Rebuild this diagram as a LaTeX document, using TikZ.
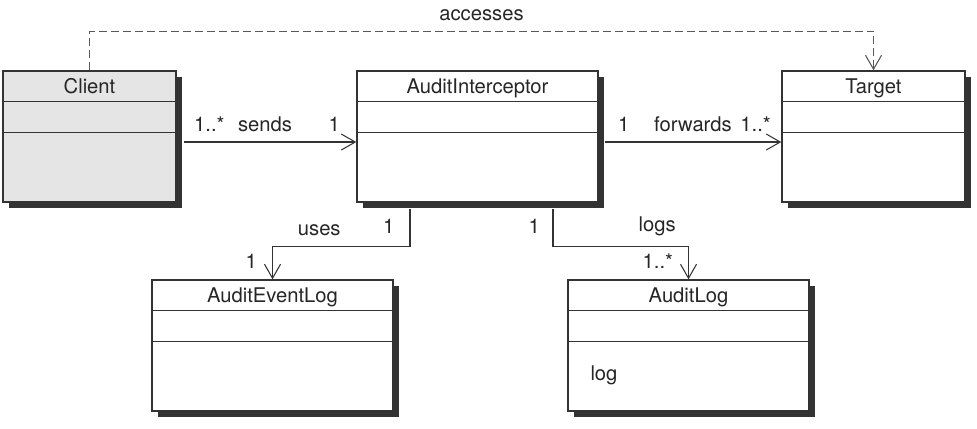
\documentclass[tikz,border=0pt]{standalone}
\usepackage{fontspec}
\setmainfont{TeX Gyre Heros}
\usepackage{tikz}
\usetikzlibrary{arrows.meta, positioning, shadows}
\tikzset{classbox/.style={rectangle,draw=black!80,line width=0.8pt,fill=white,minimum height=2.62cm,inner sep=0pt,drop shadow={shadow xshift=0.12cm,shadow yshift=-0.12cm,fill=black!80,opacity=1}},
         classname/.style={anchor=base,text=black!85},
         compline/.style={draw=black!80,line width=0.7pt},
         assoc/.style={-{Straight Barb[length=0.28cm,width=0.32cm]},line width=0.6pt,draw=black!80},
         depend/.style={assoc,dash pattern=on 0.16cm off 0.08cm,draw=black!65},
         lbl/.style={inner sep=0.2cm,text=black!85}}
\begin{document}
\begin{tikzpicture}[x=1cm,y=1cm,font=\fontsize{11.5}{13}\selectfont]
    \useasboundingbox (0,0) rectangle (19.54,-8.56);
    % Classes
    \node (client) at (1.79,-2.73) [classbox,fill=black!10,minimum width=3.46cm]{};
    \node (ai) at (9.55,-2.73) [classbox,minimum width=4.82cm]{};
    \node (target) at (17.47,-2.73) [classbox,minimum width=3.66cm]{};
    \node (evlog) at (5.45,-6.91) [classbox,minimum width=4.82cm]{};
    \node (alog) at (13.77,-6.91) [classbox,minimum width=4.82cm]{};
    % Names
    \node (client-name) at ([yshift=-0.46cm]client.north) [classname]{Client};
    \node (ai-name) at ([yshift=-0.46cm]ai.north) [classname]{AuditInterceptor};
    \node (target-name) at ([yshift=-0.46cm]target.north) [classname]{Target};
    \node (evlog-name) at ([yshift=-0.46cm]evlog.north) [classname]{AuditEventLog};
    \node (alog-name) at ([yshift=-0.46cm]alog.north) [classname]{AuditLog};
    \node (alog-op) at ([xshift=0.34cm,yshift=-2.02cm]alog.north west) [anchor=base west,text=black!85]{log};
    % Compartments
    \draw[compline] ([yshift=-0.62cm]client.north west) -- ([yshift=-0.62cm]client.north east);
    \draw[compline] ([yshift=-1.24cm]client.north west) -- ([yshift=-1.24cm]client.north east);
    \draw[compline] ([yshift=-0.62cm]ai.north west) -- ([yshift=-0.62cm]ai.north east);
    \draw[compline] ([yshift=-1.24cm]ai.north west) -- ([yshift=-1.24cm]ai.north east);
    \draw[compline] ([yshift=-0.62cm]target.north west) -- ([yshift=-0.62cm]target.north east);
    \draw[compline] ([yshift=-1.24cm]target.north west) -- ([yshift=-1.24cm]target.north east);
    \draw[compline] ([yshift=-0.62cm]evlog.north west) -- ([yshift=-0.62cm]evlog.north east);
    \draw[compline] ([yshift=-1.24cm]evlog.north west) -- ([yshift=-1.24cm]evlog.north east);
    \draw[compline] ([yshift=-0.62cm]alog.north west) -- ([yshift=-0.62cm]alog.north east);
    \draw[compline] ([yshift=-1.24cm]alog.north west) -- ([yshift=-1.24cm]alog.north east);
    % Associations
    \draw[assoc] ([xshift=0.14cm,yshift=-0.11cm]client.east) -- node[lbl,pos=0,above right]{1..*} node[lbl,above,xshift=-0.1cm]{sends} node[lbl,pos=1,above left,xshift=-0.12cm]{1} ([yshift=-0.11cm]ai.west);
    \draw[assoc] ([xshift=0.12cm,yshift=-0.11cm]ai.east) -- node[lbl,pos=0,above right,xshift=0.06cm]{1} node[lbl,above]{forwards} node[lbl,pos=1,above left]{1..*} ([yshift=-0.11cm]target.west);
    \draw[depend] (client.north) -- ++(0,0.78) -| node[lbl,pos=0.25,above]{accesses} (target.north);
    \draw[assoc] ([xshift=-1.35cm,yshift=-0.12cm]ai.south) node[lbl,below left,xshift=-0.1cm]{1} -- ++(0,-0.76) -| node[lbl,pos=0.33,above]{uses} node[lbl,pos=1,above left,xshift=-0.1cm]{1} (evlog.north);
    \draw[assoc] ([xshift=1.51cm,yshift=-0.12cm]ai.south) node[lbl,below left,xshift=-0.05cm]{1} -- ++(0,-0.76) -| node[lbl,pos=0.384,above]{logs} node[lbl,pos=1,above left,xshift=-0.1cm]{1..*} (alog.north);
  \end{tikzpicture}
\end{document}
